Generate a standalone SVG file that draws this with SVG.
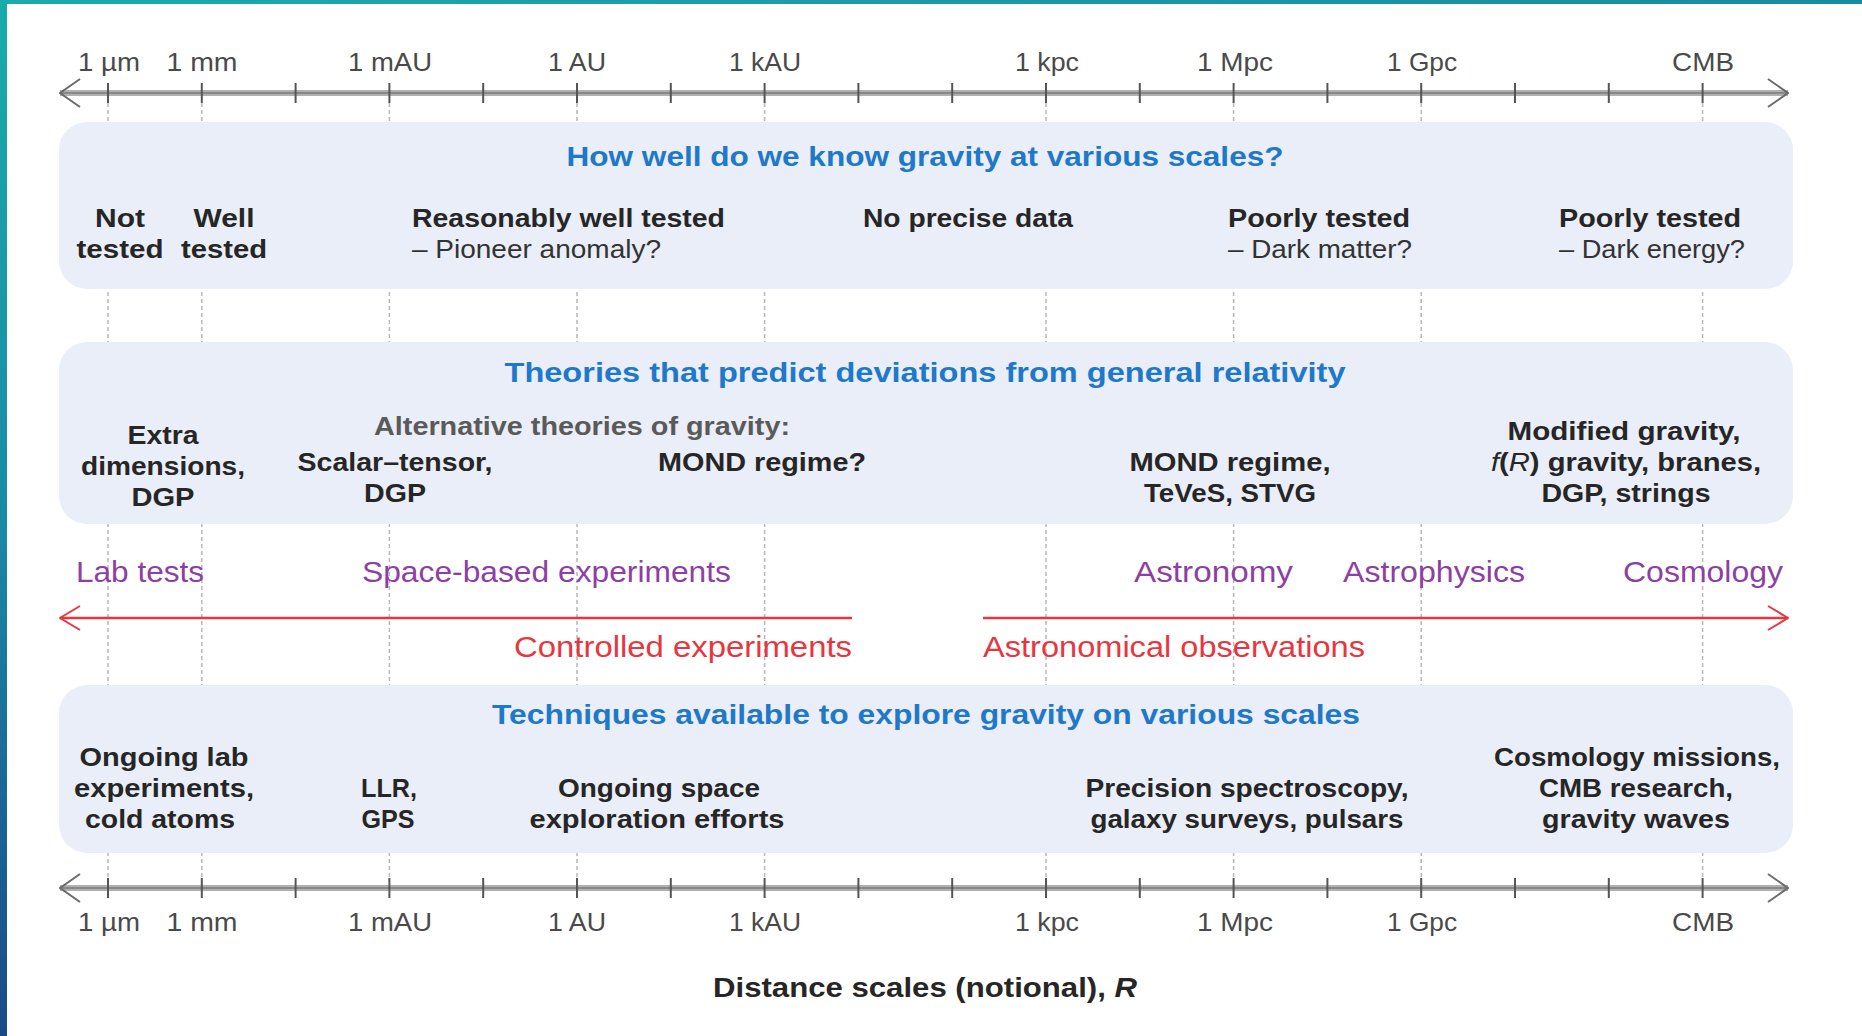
<svg xmlns="http://www.w3.org/2000/svg" width="1862" height="1036" viewBox="0 0 1862 1036">
  <defs>
    <linearGradient id="gLeft" x1="0" y1="0" x2="0" y2="1">
      <stop offset="0" stop-color="#1aabab"/>
      <stop offset="0.5" stop-color="#1a8aa5"/>
      <stop offset="1" stop-color="#1a4a86"/>
    </linearGradient>
    <linearGradient id="gTop" x1="0" y1="0" x2="1" y2="0">
      <stop offset="0" stop-color="#1aabab"/>
      <stop offset="1" stop-color="#1a8aa2"/>
    </linearGradient>
    <marker id="chevGray" viewBox="0 0 22 30" refX="21" refY="15" markerWidth="22" markerHeight="30" markerUnits="userSpaceOnUse" orient="auto-start-reverse">
      <path d="M1,1 L21,15 L1,29" fill="none" stroke="#6a6a6a" stroke-width="2"/>
    </marker>
    <marker id="chevRed" viewBox="0 0 22 26" refX="21" refY="13" markerWidth="22" markerHeight="26" markerUnits="userSpaceOnUse" orient="auto-start-reverse">
      <path d="M1,1 L21,13 L1,25" fill="none" stroke="#e8363e" stroke-width="2"/>
    </marker>
    <style>
      text { font-family: "Liberation Sans", Arial, sans-serif; }
      .box { fill: #e9eef8; }
      .guide { stroke: #b8b8b8; stroke-width: 1.5; stroke-dasharray: 4 3; }
      .tick { stroke: #555; stroke-width: 2; }
      .axisbase { stroke: #b0b0b0; stroke-width: 6; fill: none; }
      .axiscore { stroke: #888; stroke-width: 2; fill: none; }
      .axlbl { font-size: 26px; fill: #4a4a4a; text-anchor: middle; }
      .title { font-size: 28px; font-weight: bold; fill: #1f78c8; text-anchor: middle; }
      .lbl { font-size: 25px; font-weight: bold; fill: #262626; }
      .sub { font-size: 25px; fill: #333; }
      .alt { font-size: 25px; font-weight: bold; fill: #5a5a5a; text-anchor: middle; }
      .mid { text-anchor: middle; }
      .purple { font-size: 29px; fill: #8e3fa4; }
      .red { font-size: 29px; fill: #e8363e; }
      .redline { stroke: #e8363e; stroke-width: 2.5; fill: none; }
    </style>
  </defs>

  <rect x="0" y="0" width="1862" height="1036" fill="#ffffff"/>
  <rect x="0" y="0" width="1862" height="4" fill="url(#gTop)"/>
  <rect x="0" y="0" width="7" height="1036" fill="url(#gLeft)"/>

  <g id="guides">
    <line class="guide" x1="108" y1="103" x2="108" y2="878"/>
    <line class="guide" x1="201.8" y1="103" x2="201.8" y2="878"/>
    <line class="guide" x1="389.4" y1="103" x2="389.4" y2="878"/>
    <line class="guide" x1="577" y1="103" x2="577" y2="878"/>
    <line class="guide" x1="764.6" y1="103" x2="764.6" y2="878"/>
    <line class="guide" x1="1046" y1="103" x2="1046" y2="878"/>
    <line class="guide" x1="1233.6" y1="103" x2="1233.6" y2="878"/>
    <line class="guide" x1="1421.2" y1="103" x2="1421.2" y2="878"/>
    <line class="guide" x1="1702.6" y1="103" x2="1702.6" y2="878"/>
  </g>

  <g id="connectors">
    <g id="axis-top">
      <line class="axisbase" x1="60" y1="93" x2="1788" y2="93"/>
      <line class="axiscore" x1="60" y1="93" x2="1788" y2="93" marker-start="url(#chevGray)" marker-end="url(#chevGray)"/>
      <g class="tick">
        <line x1="108" y1="83" x2="108" y2="103"/><line x1="201.8" y1="83" x2="201.8" y2="103"/>
        <line x1="295.6" y1="83" x2="295.6" y2="103"/><line x1="389.4" y1="83" x2="389.4" y2="103"/>
        <line x1="483.2" y1="83" x2="483.2" y2="103"/><line x1="577" y1="83" x2="577" y2="103"/>
        <line x1="670.8" y1="83" x2="670.8" y2="103"/><line x1="764.6" y1="83" x2="764.6" y2="103"/>
        <line x1="858.4" y1="83" x2="858.4" y2="103"/><line x1="952.2" y1="83" x2="952.2" y2="103"/>
        <line x1="1046" y1="83" x2="1046" y2="103"/><line x1="1139.8" y1="83" x2="1139.8" y2="103"/>
        <line x1="1233.6" y1="83" x2="1233.6" y2="103"/><line x1="1327.4" y1="83" x2="1327.4" y2="103"/>
        <line x1="1421.2" y1="83" x2="1421.2" y2="103"/><line x1="1515" y1="83" x2="1515" y2="103"/>
        <line x1="1608.8" y1="83" x2="1608.8" y2="103"/><line x1="1702.6" y1="83" x2="1702.6" y2="103"/>
      </g>
    </g>
    <g id="axis-bottom">
      <line class="axisbase" x1="60" y1="888" x2="1788" y2="888"/>
      <line class="axiscore" x1="60" y1="888" x2="1788" y2="888" marker-start="url(#chevGray)" marker-end="url(#chevGray)"/>
      <g class="tick">
        <line x1="108" y1="878" x2="108" y2="898"/><line x1="201.8" y1="878" x2="201.8" y2="898"/>
        <line x1="295.6" y1="878" x2="295.6" y2="898"/><line x1="389.4" y1="878" x2="389.4" y2="898"/>
        <line x1="483.2" y1="878" x2="483.2" y2="898"/><line x1="577" y1="878" x2="577" y2="898"/>
        <line x1="670.8" y1="878" x2="670.8" y2="898"/><line x1="764.6" y1="878" x2="764.6" y2="898"/>
        <line x1="858.4" y1="878" x2="858.4" y2="898"/><line x1="952.2" y1="878" x2="952.2" y2="898"/>
        <line x1="1046" y1="878" x2="1046" y2="898"/><line x1="1139.8" y1="878" x2="1139.8" y2="898"/>
        <line x1="1233.6" y1="878" x2="1233.6" y2="898"/><line x1="1327.4" y1="878" x2="1327.4" y2="898"/>
        <line x1="1421.2" y1="878" x2="1421.2" y2="898"/><line x1="1515" y1="878" x2="1515" y2="898"/>
        <line x1="1608.8" y1="878" x2="1608.8" y2="898"/><line x1="1702.6" y1="878" x2="1702.6" y2="898"/>
      </g>
    </g>
    <line id="arrow-controlled" class="redline" x1="852" y1="618" x2="60" y2="618" marker-end="url(#chevRed)"/>
    <line id="arrow-astronomical" class="redline" x1="983" y1="618" x2="1788" y2="618" marker-end="url(#chevRed)"/>
  </g>

  <g id="axis-labels-top">
    <text class="axlbl" x="109" y="71" textLength="62" lengthAdjust="spacingAndGlyphs">1 µm</text>
    <text class="axlbl" x="202" y="71" textLength="71" lengthAdjust="spacingAndGlyphs">1 mm</text>
    <text class="axlbl" x="390" y="71" textLength="84" lengthAdjust="spacingAndGlyphs">1 mAU</text>
    <text class="axlbl" x="577" y="71" textLength="58" lengthAdjust="spacingAndGlyphs">1 AU</text>
    <text class="axlbl" x="765" y="71" textLength="72" lengthAdjust="spacingAndGlyphs">1 kAU</text>
    <text class="axlbl" x="1047" y="71" textLength="64" lengthAdjust="spacingAndGlyphs">1 kpc</text>
    <text class="axlbl" x="1235" y="71" textLength="76" lengthAdjust="spacingAndGlyphs">1 Mpc</text>
    <text class="axlbl" x="1422" y="71" textLength="70" lengthAdjust="spacingAndGlyphs">1 Gpc</text>
    <text class="axlbl" x="1703" y="71" textLength="62" lengthAdjust="spacingAndGlyphs">CMB</text>
  </g>

  <g id="box-knowledge">
    <rect class="box" x="59" y="122" width="1734" height="167" rx="28"/>
    <text class="title" x="925" y="166" textLength="717" lengthAdjust="spacingAndGlyphs">How well do we know gravity at various scales?</text>
    <g id="not-tested"><text class="lbl mid" x="120" y="227" textLength="50" lengthAdjust="spacingAndGlyphs">Not</text><text class="lbl mid" x="120" y="258" textLength="87" lengthAdjust="spacingAndGlyphs">tested</text></g>
    <g id="well-tested"><text class="lbl mid" x="224" y="227" textLength="61" lengthAdjust="spacingAndGlyphs">Well</text><text class="lbl mid" x="224" y="258" textLength="86" lengthAdjust="spacingAndGlyphs">tested</text></g>
    <g id="reasonably"><text class="lbl" x="412" y="227" textLength="313" lengthAdjust="spacingAndGlyphs">Reasonably well tested</text><text class="sub" x="412" y="258" textLength="249" lengthAdjust="spacingAndGlyphs">– Pioneer anomaly?</text></g>
    <g id="no-precise"><text class="lbl" x="863" y="227" textLength="210" lengthAdjust="spacingAndGlyphs">No precise data</text></g>
    <g id="poorly-dm"><text class="lbl" x="1228" y="227" textLength="182" lengthAdjust="spacingAndGlyphs">Poorly tested</text><text class="sub" x="1228" y="258" textLength="184" lengthAdjust="spacingAndGlyphs">– Dark matter?</text></g>
    <g id="poorly-de"><text class="lbl" x="1559" y="227" textLength="182" lengthAdjust="spacingAndGlyphs">Poorly tested</text><text class="sub" x="1559" y="258" textLength="186" lengthAdjust="spacingAndGlyphs">– Dark energy?</text></g>
  </g>

  <g id="box-theories">
    <rect class="box" x="59" y="342" width="1734" height="182" rx="28"/>
    <text class="title" x="925" y="382" textLength="841" lengthAdjust="spacingAndGlyphs">Theories that predict deviations from general relativity</text>
    <g id="extra-dim"><text class="lbl mid" x="163" y="444" textLength="71" lengthAdjust="spacingAndGlyphs">Extra</text><text class="lbl mid" x="163" y="475" textLength="164" lengthAdjust="spacingAndGlyphs">dimensions,</text><text class="lbl mid" x="163" y="506" textLength="63" lengthAdjust="spacingAndGlyphs">DGP</text></g>
    <text id="alt-theories" class="alt" x="582" y="435" textLength="416" lengthAdjust="spacingAndGlyphs">Alternative theories of gravity:</text>
    <g id="scalar-tensor"><text class="lbl mid" x="395" y="471" textLength="195" lengthAdjust="spacingAndGlyphs">Scalar–tensor,</text><text class="lbl mid" x="395" y="502" textLength="62" lengthAdjust="spacingAndGlyphs">DGP</text></g>
    <g id="mond-q"><text class="lbl mid" x="762" y="471" textLength="208" lengthAdjust="spacingAndGlyphs">MOND regime?</text></g>
    <g id="mond-teves"><text class="lbl mid" x="1230" y="471" textLength="201" lengthAdjust="spacingAndGlyphs">MOND regime,</text><text class="lbl mid" x="1230" y="502" textLength="172" lengthAdjust="spacingAndGlyphs">TeVeS, STVG</text></g>
    <g id="modified"><text class="lbl mid" x="1624" y="440" textLength="233" lengthAdjust="spacingAndGlyphs">Modified gravity,</text><text class="lbl mid" x="1626" y="471" textLength="270" lengthAdjust="spacingAndGlyphs"><tspan font-style="italic" font-weight="normal">f</tspan>(<tspan font-style="italic" font-weight="normal">R</tspan>) gravity, branes,</text><text class="lbl mid" x="1626" y="502" textLength="169" lengthAdjust="spacingAndGlyphs">DGP, strings</text></g>
  </g>

  <g id="methods">
    <text id="lab-tests" class="purple" x="76" y="582" textLength="128" lengthAdjust="spacingAndGlyphs">Lab tests</text>
    <text id="space-based" class="purple" x="362" y="582" textLength="369" lengthAdjust="spacingAndGlyphs">Space-based experiments</text>
    <text id="astronomy" class="purple" x="1134" y="582" textLength="159" lengthAdjust="spacingAndGlyphs">Astronomy</text>
    <text id="astrophysics" class="purple" x="1343" y="582" textLength="182" lengthAdjust="spacingAndGlyphs">Astrophysics</text>
    <text id="cosmology" class="purple" x="1623" y="582" textLength="160" lengthAdjust="spacingAndGlyphs">Cosmology</text>
    <text id="controlled" class="red" x="852" y="657" text-anchor="end" textLength="338" lengthAdjust="spacingAndGlyphs">Controlled experiments</text>
    <text id="astronomical" class="red" x="983" y="657" textLength="382" lengthAdjust="spacingAndGlyphs">Astronomical observations</text>
  </g>

  <g id="box-techniques">
    <rect class="box" x="59" y="685" width="1734" height="168" rx="28"/>
    <text class="title" x="926" y="724" textLength="868" lengthAdjust="spacingAndGlyphs">Techniques available to explore gravity on various scales</text>
    <g id="ongoing-lab"><text class="lbl mid" x="164" y="766" textLength="169" lengthAdjust="spacingAndGlyphs">Ongoing lab</text><text class="lbl mid" x="164" y="797" textLength="180" lengthAdjust="spacingAndGlyphs">experiments,</text><text class="lbl mid" x="160" y="828" textLength="150" lengthAdjust="spacingAndGlyphs">cold atoms</text></g>
    <g id="llr-gps"><text class="lbl mid" x="389" y="797" textLength="56" lengthAdjust="spacingAndGlyphs">LLR,</text><text class="lbl mid" x="388" y="828" textLength="53" lengthAdjust="spacingAndGlyphs">GPS</text></g>
    <g id="space-explore"><text class="lbl mid" x="659" y="797" textLength="202" lengthAdjust="spacingAndGlyphs">Ongoing space</text><text class="lbl mid" x="657" y="828" textLength="255" lengthAdjust="spacingAndGlyphs">exploration efforts</text></g>
    <g id="precision"><text class="lbl mid" x="1247" y="797" textLength="323" lengthAdjust="spacingAndGlyphs">Precision spectroscopy,</text><text class="lbl mid" x="1247" y="828" textLength="313" lengthAdjust="spacingAndGlyphs">galaxy surveys, pulsars</text></g>
    <g id="cosmo-missions"><text class="lbl mid" x="1637" y="766" textLength="286" lengthAdjust="spacingAndGlyphs">Cosmology missions,</text><text class="lbl mid" x="1636" y="797" textLength="194" lengthAdjust="spacingAndGlyphs">CMB research,</text><text class="lbl mid" x="1636" y="828" textLength="188" lengthAdjust="spacingAndGlyphs">gravity waves</text></g>
  </g>

  <g id="axis-labels-bottom">
    <text class="axlbl" x="109" y="931" textLength="62" lengthAdjust="spacingAndGlyphs">1 µm</text>
    <text class="axlbl" x="202" y="931" textLength="71" lengthAdjust="spacingAndGlyphs">1 mm</text>
    <text class="axlbl" x="390" y="931" textLength="84" lengthAdjust="spacingAndGlyphs">1 mAU</text>
    <text class="axlbl" x="577" y="931" textLength="58" lengthAdjust="spacingAndGlyphs">1 AU</text>
    <text class="axlbl" x="765" y="931" textLength="72" lengthAdjust="spacingAndGlyphs">1 kAU</text>
    <text class="axlbl" x="1047" y="931" textLength="64" lengthAdjust="spacingAndGlyphs">1 kpc</text>
    <text class="axlbl" x="1235" y="931" textLength="76" lengthAdjust="spacingAndGlyphs">1 Mpc</text>
    <text class="axlbl" x="1422" y="931" textLength="70" lengthAdjust="spacingAndGlyphs">1 Gpc</text>
    <text class="axlbl" x="1703" y="931" textLength="62" lengthAdjust="spacingAndGlyphs">CMB</text>
  </g>

  <text id="axis-title" x="925" y="997" text-anchor="middle" font-size="28" font-weight="bold" fill="#262626" textLength="424" lengthAdjust="spacingAndGlyphs">Distance scales (notional), <tspan font-style="italic">R</tspan></text>
</svg>
